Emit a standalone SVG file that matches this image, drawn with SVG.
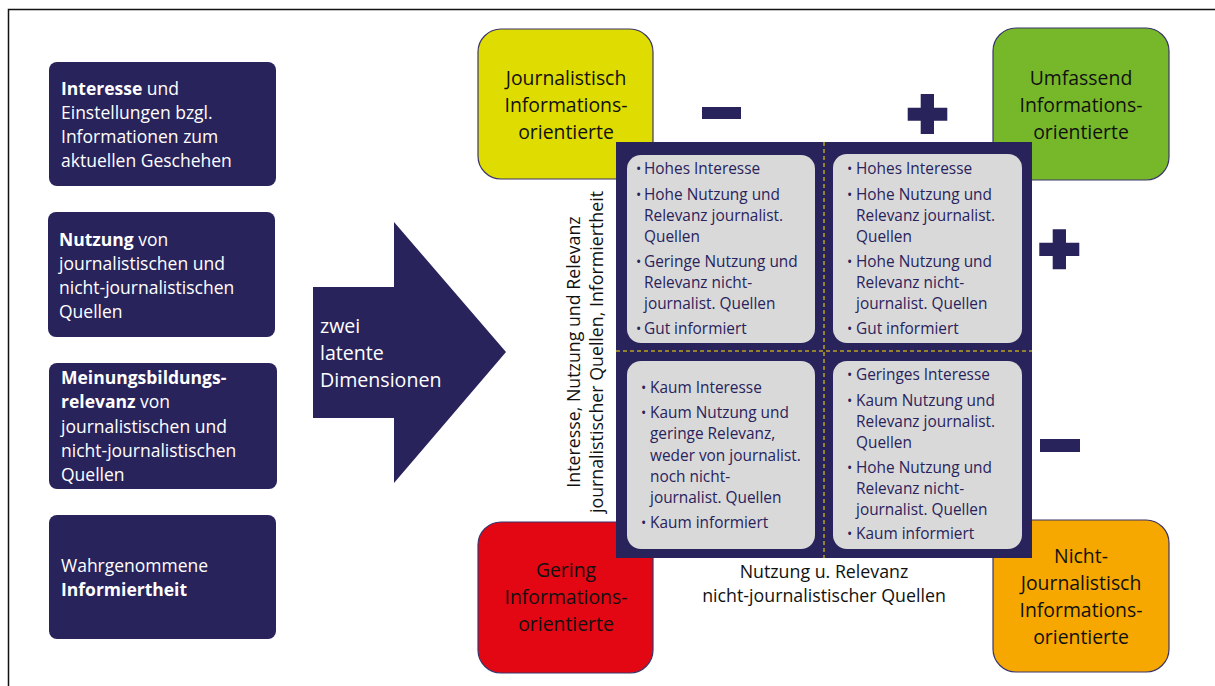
<svg xmlns="http://www.w3.org/2000/svg" width="1215" height="686" viewBox="0 0 1215 686">
<defs>
<style>
text{font-family:"Open Sans","Liberation Sans",sans-serif;}
.lb{fill:#29235c;}
.lt{fill:#ffffff;font-size:17.5px;}
.at{fill:#ffffff;font-size:19.6px;}
.cb{stroke:#3a356b;stroke-width:1.2;}
.ct{fill:#111111;font-size:19.4px;text-anchor:middle;}
.gq{fill:#d9d9d9;}
.qt{fill:#29235c;font-size:15.4px;}
.bu{fill:#29235c;font-size:14px;}
.ax{fill:#111111;font-size:17.8px;text-anchor:middle;}
.dash{stroke:#ffe100;stroke-width:1;stroke-dasharray:4 3;fill:none;}
.sg{fill:#29235c;}
</style>
</defs>
<rect x="8.5" y="9.5" width="1230" height="700" fill="#ffffff" stroke="#111111" stroke-width="1.5"/>

<g id="box-interesse">
<rect class="lb" x="49" y="62" width="227" height="124" rx="8"/>
<text class="lt"><tspan x="61" y="95"><tspan font-weight="bold">Interesse</tspan> und</tspan><tspan x="61" y="119">Einstellungen bzgl.</tspan><tspan x="61" y="143">Informationen zum</tspan><tspan x="61" y="167">aktuellen Geschehen</tspan></text>
</g>
<g id="box-nutzung">
<rect class="lb" x="48" y="212" width="227" height="125" rx="8"/>
<text class="lt"><tspan x="59" y="246"><tspan font-weight="bold">Nutzung</tspan> von</tspan><tspan x="59" y="270">journalistischen und</tspan><tspan x="59" y="294">nicht-journalistischen</tspan><tspan x="59" y="318">Quellen</tspan></text>
</g>
<g id="box-meinung">
<rect class="lb" x="49" y="363" width="228" height="126" rx="8"/>
<text class="lt"><tspan x="61" y="384" font-weight="bold">Meinungsbildungs-</tspan><tspan x="61" y="408"><tspan font-weight="bold">relevanz</tspan> von</tspan><tspan x="61" y="433">journalistischen und</tspan><tspan x="61" y="457">nicht-journalistischen</tspan><tspan x="61" y="481">Quellen</tspan></text>
</g>
<g id="box-informiertheit">
<rect class="lb" x="49" y="515" width="227" height="124" rx="8"/>
<text class="lt"><tspan x="61" y="572">Wahrgenommene</tspan><tspan x="61" y="596" font-weight="bold">Informiertheit</tspan></text>
</g>

<g id="connectors">
<polygon class="lb" points="313,287 394,287 394,222 506,352 394,483 394,418 313,418"/>
<text class="at"><tspan x="320" y="333">zwei</tspan><tspan x="320" y="360">latente</tspan><tspan x="320" y="387">Dimensionen</tspan></text>
</g>

<g id="corner-journalistisch">
<rect class="cb" x="478" y="29" width="175" height="150" rx="23" fill="#dedc00"/>
<text class="ct"><tspan x="566" y="85">Journalistisch</tspan><tspan x="566" y="112">Informations-</tspan><tspan x="566" y="139">orientierte</tspan></text>
</g>
<g id="corner-umfassend">
<rect class="cb" x="993" y="28" width="176" height="152" rx="23" fill="#76b82a"/>
<text class="ct"><tspan x="1081" y="85">Umfassend</tspan><tspan x="1081" y="112">Informations-</tspan><tspan x="1081" y="139">orientierte</tspan></text>
</g>
<g id="corner-gering">
<rect class="cb" x="478" y="522" width="175" height="151" rx="23" fill="#e30613"/>
<text class="ct"><tspan x="566" y="577">Gering</tspan><tspan x="566" y="604">Informations-</tspan><tspan x="566" y="631">orientierte</tspan></text>
</g>
<g id="corner-nicht">
<rect class="cb" x="993" y="520" width="176" height="152" rx="23" fill="#f6a800"/>
<text class="ct"><tspan x="1081" y="563">Nicht-</tspan><tspan x="1081" y="590">Journalistisch</tspan><tspan x="1081" y="617">Informations-</tspan><tspan x="1081" y="644">orientierte</tspan></text>
</g>

<g id="matrix">
<rect class="lb" x="616" y="142" width="416" height="416"/>
<line class="dash" x1="824" y1="142" x2="824" y2="558"/>
<line class="dash" x1="616" y1="351" x2="1032" y2="351"/>
</g>

<g id="quadrant-tl">
<rect class="gq" x="627" y="155" width="188" height="188" rx="14"/>
<text class="bu"><tspan x="636" y="174">•</tspan><tspan x="636" y="199.5">•</tspan><tspan x="636" y="266.5">•</tspan><tspan x="636" y="333.5">•</tspan></text>
<text class="qt"><tspan x="644" y="174">Hohes Interesse</tspan><tspan x="644" y="199.5">Hohe Nutzung und</tspan><tspan x="644" y="220.5">Relevanz journalist.</tspan><tspan x="644" y="241.5">Quellen</tspan><tspan x="644" y="266.5">Geringe Nutzung und</tspan><tspan x="644" y="287.5">Relevanz nicht-</tspan><tspan x="644" y="308.5">journalist. Quellen</tspan><tspan x="644" y="333.5">Gut informiert</tspan></text>
</g>
<g id="quadrant-tr">
<rect class="gq" x="833" y="154" width="189" height="189" rx="14"/>
<text class="bu"><tspan x="847" y="174">•</tspan><tspan x="847" y="199.5">•</tspan><tspan x="847" y="266.5">•</tspan><tspan x="847" y="333.5">•</tspan></text>
<text class="qt"><tspan x="856" y="174">Hohes Interesse</tspan><tspan x="856" y="199.5">Hohe Nutzung und</tspan><tspan x="856" y="220.5">Relevanz journalist.</tspan><tspan x="856" y="241.5">Quellen</tspan><tspan x="856" y="266.5">Hohe Nutzung und</tspan><tspan x="856" y="287.5">Relevanz nicht-</tspan><tspan x="856" y="308.5">journalist. Quellen</tspan><tspan x="856" y="333.5">Gut informiert</tspan></text>
</g>
<g id="quadrant-bl">
<rect class="gq" x="627" y="361" width="188" height="188" rx="14"/>
<text class="bu"><tspan x="641" y="393">•</tspan><tspan x="641" y="418">•</tspan><tspan x="641" y="527.7">•</tspan></text>
<text class="qt"><tspan x="650" y="393">Kaum Interesse</tspan><tspan x="650" y="418">Kaum Nutzung und</tspan><tspan x="650" y="439">geringe Relevanz,</tspan><tspan x="650" y="460.5">weder von journalist.</tspan><tspan x="650" y="481.5">noch nicht-</tspan><tspan x="650" y="502.5">journalist. Quellen</tspan><tspan x="650" y="527.7">Kaum informiert</tspan></text>
</g>
<g id="quadrant-br">
<rect class="gq" x="833" y="361" width="189" height="188" rx="14"/>
<text class="bu"><tspan x="847" y="380">•</tspan><tspan x="847" y="406">•</tspan><tspan x="847" y="472.7">•</tspan><tspan x="847" y="539.3">•</tspan></text>
<text class="qt"><tspan x="856" y="380">Geringes Interesse</tspan><tspan x="856" y="406">Kaum Nutzung und</tspan><tspan x="856" y="426.7">Relevanz journalist.</tspan><tspan x="856" y="447.7">Quellen</tspan><tspan x="856" y="472.7">Hohe Nutzung und</tspan><tspan x="856" y="493.5">Relevanz nicht-</tspan><tspan x="856" y="514.5">journalist. Quellen</tspan><tspan x="856" y="539.3">Kaum informiert</tspan></text>
</g>

<g id="signs">
<rect class="sg" x="702" y="107" width="39" height="12"/>
<path class="sg" d="M920.7,94h13.3v13.7h13.3v13h-13.3v13.3h-13.3v-13.3h-13v-13h13z"/>
<path class="sg" d="M1052.7,229.3h13.3v13.4h13.3v13.3h-13.3v13.3h-13.3v-13.3h-13.4v-13.3h13.4z"/>
<rect class="sg" x="1040" y="439" width="40" height="13"/>
</g>

<g id="axis-vertical">
<text class="ax" transform="translate(580,352) rotate(-90)" x="0" y="0">Interesse, Nutzung und Relevanz</text>
<text class="ax" transform="translate(603,352) rotate(-90)" x="0" y="0">journalistischer Quellen, Informiertheit</text>
</g>
<g id="axis-horizontal">
<text class="ax"><tspan x="824" y="578">Nutzung u. Relevanz</tspan><tspan x="824" y="602">nicht-journalistischer Quellen</tspan></text>
</g>
</svg>
